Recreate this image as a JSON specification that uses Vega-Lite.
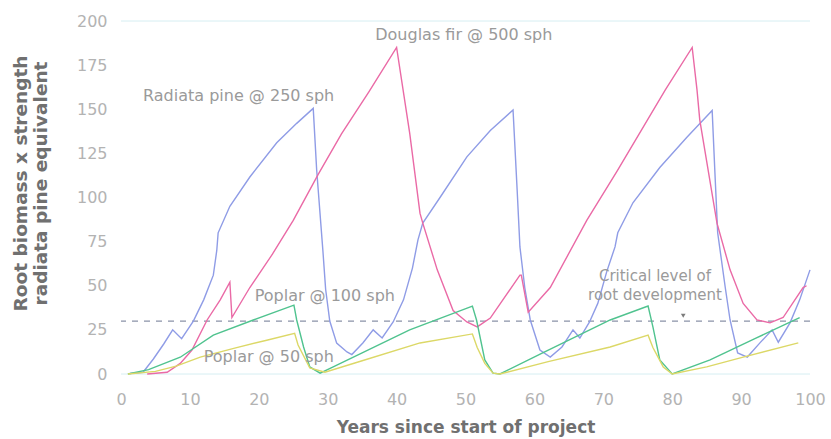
{
  "$schema": "https://vega.github.io/schema/vega-lite/v6.json",
  "width": 689,
  "height": 353,
  "autosize": "none",
  "padding": {"left": 121, "top": 21, "right": 21, "bottom": 65},
  "background": "white",
  "config": {"view": {"stroke": null}},
  "datasets": {
    "series": [
      {"s": "Radiata pine", "year": 1.3, "value": 0.3},
      {"s": "Radiata pine", "year": 3.2, "value": 1},
      {"s": "Radiata pine", "year": 4.7, "value": 8.5},
      {"s": "Radiata pine", "year": 6.2, "value": 17},
      {"s": "Radiata pine", "year": 7.5, "value": 25},
      {"s": "Radiata pine", "year": 8.8, "value": 20},
      {"s": "Radiata pine", "year": 10.5, "value": 30},
      {"s": "Radiata pine", "year": 12, "value": 42},
      {"s": "Radiata pine", "year": 13.4, "value": 56},
      {"s": "Radiata pine", "year": 13.9, "value": 70},
      {"s": "Radiata pine", "year": 14.1, "value": 80},
      {"s": "Radiata pine", "year": 15.8, "value": 95},
      {"s": "Radiata pine", "year": 18.7, "value": 111.6},
      {"s": "Radiata pine", "year": 22.6, "value": 131},
      {"s": "Radiata pine", "year": 25.5, "value": 142},
      {"s": "Radiata pine", "year": 27.9, "value": 150.5},
      {"s": "Radiata pine", "year": 28.4, "value": 115.6},
      {"s": "Radiata pine", "year": 29.3, "value": 70},
      {"s": "Radiata pine", "year": 29.7, "value": 48},
      {"s": "Radiata pine", "year": 30.3, "value": 30},
      {"s": "Radiata pine", "year": 31.3, "value": 17.5},
      {"s": "Radiata pine", "year": 32.8, "value": 12.5},
      {"s": "Radiata pine", "year": 33.5, "value": 11},
      {"s": "Radiata pine", "year": 35.1, "value": 17.6},
      {"s": "Radiata pine", "year": 36.6, "value": 25},
      {"s": "Radiata pine", "year": 37.9, "value": 20.4},
      {"s": "Radiata pine", "year": 39.5, "value": 29.5},
      {"s": "Radiata pine", "year": 41, "value": 42},
      {"s": "Radiata pine", "year": 42.3, "value": 60},
      {"s": "Radiata pine", "year": 43.1, "value": 76},
      {"s": "Radiata pine", "year": 43.8, "value": 85.5},
      {"s": "Radiata pine", "year": 46.3, "value": 100},
      {"s": "Radiata pine", "year": 50.2, "value": 123},
      {"s": "Radiata pine", "year": 53.6, "value": 138},
      {"s": "Radiata pine", "year": 56.9, "value": 149.6},
      {"s": "Radiata pine", "year": 57.5, "value": 104},
      {"s": "Radiata pine", "year": 57.9, "value": 72},
      {"s": "Radiata pine", "year": 58.6, "value": 49},
      {"s": "Radiata pine", "year": 59.4, "value": 30.6},
      {"s": "Radiata pine", "year": 60.8, "value": 13.6},
      {"s": "Radiata pine", "year": 62.3, "value": 9.6},
      {"s": "Radiata pine", "year": 64, "value": 15.3},
      {"s": "Radiata pine", "year": 65.6, "value": 25},
      {"s": "Radiata pine", "year": 66.6, "value": 20.4},
      {"s": "Radiata pine", "year": 68, "value": 29.5},
      {"s": "Radiata pine", "year": 69.2, "value": 40},
      {"s": "Radiata pine", "year": 70.5, "value": 58},
      {"s": "Radiata pine", "year": 71.7, "value": 72},
      {"s": "Radiata pine", "year": 72.1, "value": 80},
      {"s": "Radiata pine", "year": 74.3, "value": 97},
      {"s": "Radiata pine", "year": 78.2, "value": 117},
      {"s": "Radiata pine", "year": 82.1, "value": 134},
      {"s": "Radiata pine", "year": 85.8, "value": 149.3},
      {"s": "Radiata pine", "year": 86.2, "value": 114},
      {"s": "Radiata pine", "year": 86.6, "value": 80},
      {"s": "Radiata pine", "year": 87.7, "value": 49},
      {"s": "Radiata pine", "year": 88.4, "value": 30.6},
      {"s": "Radiata pine", "year": 89.5, "value": 11.9},
      {"s": "Radiata pine", "year": 90.9, "value": 9.6},
      {"s": "Radiata pine", "year": 92.7, "value": 17.5},
      {"s": "Radiata pine", "year": 94.5, "value": 25},
      {"s": "Radiata pine", "year": 95.4, "value": 18},
      {"s": "Radiata pine", "year": 97.1, "value": 29},
      {"s": "Radiata pine", "year": 98.5, "value": 42},
      {"s": "Radiata pine", "year": 100, "value": 59},

      {"s": "Douglas fir", "year": 3.8, "value": 0},
      {"s": "Douglas fir", "year": 6.7, "value": 1},
      {"s": "Douglas fir", "year": 8.6, "value": 6},
      {"s": "Douglas fir", "year": 10.3, "value": 13.6},
      {"s": "Douglas fir", "year": 12.5, "value": 30.6},
      {"s": "Douglas fir", "year": 14.4, "value": 42},
      {"s": "Douglas fir", "year": 15.8, "value": 52},
      {"s": "Douglas fir", "year": 16.1, "value": 32},
      {"s": "Douglas fir", "year": 18.7, "value": 49},
      {"s": "Douglas fir", "year": 22, "value": 68},
      {"s": "Douglas fir", "year": 25, "value": 87},
      {"s": "Douglas fir", "year": 28.6, "value": 113},
      {"s": "Douglas fir", "year": 32, "value": 136},
      {"s": "Douglas fir", "year": 36, "value": 160},
      {"s": "Douglas fir", "year": 40, "value": 185},
      {"s": "Douglas fir", "year": 41.9, "value": 136.5},
      {"s": "Douglas fir", "year": 43.4, "value": 91},
      {"s": "Douglas fir", "year": 43.8, "value": 85.5},
      {"s": "Douglas fir", "year": 45.9, "value": 59},
      {"s": "Douglas fir", "year": 48.2, "value": 36},
      {"s": "Douglas fir", "year": 50.2, "value": 29.5},
      {"s": "Douglas fir", "year": 51.7, "value": 26.7},
      {"s": "Douglas fir", "year": 53.6, "value": 31.7},
      {"s": "Douglas fir", "year": 57.9, "value": 56},
      {"s": "Douglas fir", "year": 58.1, "value": 56},
      {"s": "Douglas fir", "year": 59.1, "value": 35},
      {"s": "Douglas fir", "year": 62.3, "value": 49},
      {"s": "Douglas fir", "year": 67.6, "value": 87},
      {"s": "Douglas fir", "year": 72, "value": 115},
      {"s": "Douglas fir", "year": 79, "value": 161},
      {"s": "Douglas fir", "year": 82.9, "value": 185},
      {"s": "Douglas fir", "year": 83.6, "value": 161},
      {"s": "Douglas fir", "year": 84, "value": 144},
      {"s": "Douglas fir", "year": 86.5, "value": 85.5},
      {"s": "Douglas fir", "year": 88.4, "value": 59},
      {"s": "Douglas fir", "year": 90.3, "value": 40},
      {"s": "Douglas fir", "year": 92.3, "value": 30.6},
      {"s": "Douglas fir", "year": 94.2, "value": 29},
      {"s": "Douglas fir", "year": 96.1, "value": 32},
      {"s": "Douglas fir", "year": 99, "value": 49},
      {"s": "Douglas fir", "year": 99.5, "value": 50},

      {"s": "Poplar 100", "year": 1, "value": 0},
      {"s": "Poplar 100", "year": 4, "value": 2.5},
      {"s": "Poplar 100", "year": 8.6, "value": 9.5},
      {"s": "Poplar 100", "year": 13.4, "value": 22},
      {"s": "Poplar 100", "year": 19.2, "value": 30.6},
      {"s": "Poplar 100", "year": 25.1, "value": 39},
      {"s": "Poplar 100", "year": 25.5, "value": 30.6},
      {"s": "Poplar 100", "year": 26.5, "value": 15.3},
      {"s": "Poplar 100", "year": 27.4, "value": 4},
      {"s": "Poplar 100", "year": 28.9, "value": 0.5},
      {"s": "Poplar 100", "year": 30.8, "value": 4},
      {"s": "Poplar 100", "year": 35, "value": 12},
      {"s": "Poplar 100", "year": 41.9, "value": 25},
      {"s": "Poplar 100", "year": 51, "value": 38.5},
      {"s": "Poplar 100", "year": 51.6, "value": 30.6},
      {"s": "Poplar 100", "year": 52.8, "value": 8},
      {"s": "Poplar 100", "year": 54, "value": 0.5},
      {"s": "Poplar 100", "year": 55, "value": 0},
      {"s": "Poplar 100", "year": 61.2, "value": 12},
      {"s": "Poplar 100", "year": 71, "value": 30.6},
      {"s": "Poplar 100", "year": 76.5, "value": 38.5},
      {"s": "Poplar 100", "year": 77.2, "value": 26.7},
      {"s": "Poplar 100", "year": 78.2, "value": 8},
      {"s": "Poplar 100", "year": 80, "value": 0},
      {"s": "Poplar 100", "year": 85.5, "value": 8},
      {"s": "Poplar 100", "year": 92, "value": 20},
      {"s": "Poplar 100", "year": 98.5, "value": 32},

      {"s": "Poplar 50", "year": 1, "value": 0},
      {"s": "Poplar 50", "year": 5, "value": 1.5},
      {"s": "Poplar 50", "year": 8, "value": 4.5},
      {"s": "Poplar 50", "year": 11.5, "value": 9.6},
      {"s": "Poplar 50", "year": 16.5, "value": 14.7},
      {"s": "Poplar 50", "year": 21, "value": 19},
      {"s": "Poplar 50", "year": 25.2, "value": 23},
      {"s": "Poplar 50", "year": 25.7, "value": 16.4},
      {"s": "Poplar 50", "year": 27.4, "value": 3.5},
      {"s": "Poplar 50", "year": 29.6, "value": 1},
      {"s": "Poplar 50", "year": 35, "value": 7.5},
      {"s": "Poplar 50", "year": 43.4, "value": 17.6},
      {"s": "Poplar 50", "year": 51, "value": 22.7},
      {"s": "Poplar 50", "year": 51.7, "value": 15},
      {"s": "Poplar 50", "year": 52.8, "value": 6},
      {"s": "Poplar 50", "year": 54, "value": 0.5},
      {"s": "Poplar 50", "year": 55, "value": 0},
      {"s": "Poplar 50", "year": 62, "value": 7},
      {"s": "Poplar 50", "year": 71, "value": 15.3},
      {"s": "Poplar 50", "year": 76.5, "value": 22},
      {"s": "Poplar 50", "year": 77.2, "value": 15},
      {"s": "Poplar 50", "year": 78.7, "value": 4},
      {"s": "Poplar 50", "year": 80, "value": 0},
      {"s": "Poplar 50", "year": 85, "value": 4},
      {"s": "Poplar 50", "year": 90.3, "value": 9.6},
      {"s": "Poplar 50", "year": 98.3, "value": 17.6}
    ],
    "leftLabels": [
      {"year": 3.2, "value": 157.5, "text": "Radiata pine @ 250 sph"},
      {"year": 36.9, "value": 192, "text": "Douglas fir @ 500 sph"},
      {"year": 19.4, "value": 44, "text": "Poplar @ 100 sph"},
      {"year": 12, "value": 9.6, "text": "Poplar @ 50 sph"}
    ],
    "centerLabels": [
      {"year": 77.5, "value": 55.5, "text": "Critical level of"},
      {"year": 77.5, "value": 44.8, "text": "root development"}
    ]
  },
  "layer": [
    {
      "data": {"values": [{"v": 0}, {"v": 200}]},
      "mark": {"type": "rule", "color": "#d6eef2", "strokeWidth": 1},
      "encoding": {"y": {"field": "v", "type": "quantitative"}}
    },
    {
      "data": {"values": [{"v": 30}]},
      "mark": {"type": "rule", "color": "#8a92a8", "strokeWidth": 1.2, "strokeDash": [6, 6]},
      "encoding": {"y": {"field": "v", "type": "quantitative"}}
    },
    {
      "data": {"name": "series"},
      "mark": {"type": "line", "strokeWidth": 1.4, "interpolate": "linear"},
      "encoding": {
        "x": {
          "field": "year", "type": "quantitative",
          "scale": {"domain": [0, 100], "nice": false},
          "axis": {
            "values": [0, 10, 20, 30, 40, 50, 60, 70, 80, 90, 100],
            "ticks": false, "domain": false, "grid": false, "labelFlush": false,
            "labelFont": "DejaVu Sans", "labelFontSize": 16, "labelColor": "#b3b3b3",
            "labelPadding": 17,
            "title": "Years since start of project",
            "titleFont": "DejaVu Sans", "titleFontSize": 17, "titleFontWeight": "bold",
            "titleColor": "#707070", "titlePadding": 12
          }
        },
        "y": {
          "field": "value", "type": "quantitative",
          "scale": {"domain": [0, 200], "nice": false},
          "axis": {
            "values": [0, 25, 50, 75, 100, 125, 150, 175, 200],
            "ticks": false, "domain": false, "grid": false, "labelFlush": false,
            "labelFont": "DejaVu Sans", "labelFontSize": 16, "labelColor": "#b3b3b3",
            "labelPadding": 14,
            "title": ["Root biomass x strength", "radiata pine equivalent"],
            "titleFont": "DejaVu Sans", "titleFontSize": 18.5, "titleFontWeight": "bold",
            "titleColor": "#707070", "titleLineHeight": 20, "titlePadding": 26,
            "titleY": 162
          }
        },
        "color": {
          "field": "s", "type": "nominal",
          "scale": {
            "domain": ["Radiata pine", "Douglas fir", "Poplar 100", "Poplar 50"],
            "range": ["#8f9ce6", "#ea6aa6", "#50c38f", "#dcd867"]
          },
          "legend": null
        }
      }
    },
    {
      "data": {"name": "leftLabels"},
      "mark": {"type": "text", "font": "DejaVu Sans", "fontSize": 16, "color": "#9a9a9a", "baseline": "middle", "align": "left"},
      "encoding": {
        "x": {"field": "year", "type": "quantitative"},
        "y": {"field": "value", "type": "quantitative"},
        "text": {"field": "text"}
      }
    },
    {
      "data": {"name": "centerLabels"},
      "mark": {"type": "text", "font": "DejaVu Sans", "fontSize": 15, "color": "#9a9a9a", "baseline": "middle", "align": "center"},
      "encoding": {
        "x": {"field": "year", "type": "quantitative"},
        "y": {"field": "value", "type": "quantitative"},
        "text": {"field": "text"}
      }
    },
    {
      "data": {"values": [{"year": 81.6, "value": 33}]},
      "mark": {"type": "point", "shape": "triangle-down", "filled": true, "size": 22, "color": "#444444"},
      "encoding": {
        "x": {"field": "year", "type": "quantitative"},
        "y": {"field": "value", "type": "quantitative"}
      }
    }
  ]
}
